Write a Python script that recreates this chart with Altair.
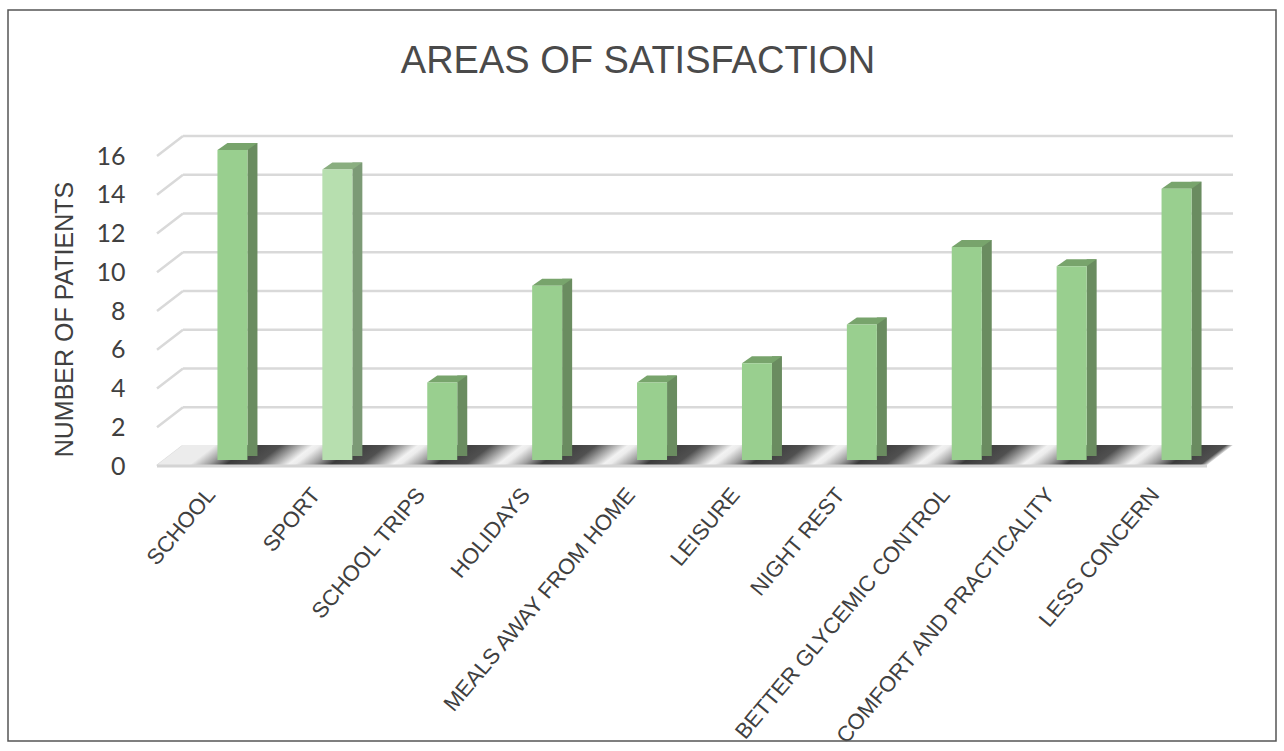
import altair as alt
import pandas as pd

# ---------------- data ----------------
CATEGORIES = [
    "SCHOOL", "SPORT", "SCHOOL TRIPS", "HOLIDAYS", "MEALS AWAY FROM HOME",
    "LEISURE", "NIGHT REST", "BETTER GLYCEMIC CONTROL",
    "COMFORT AND PRACTICALITY", "LESS CONCERN",
]
PATIENTS = [16, 15, 4, 9, 4, 5, 7, 11, 10, 14]
Y_TICKS = [0, 2, 4, 6, 8, 10, 12, 14, 16]
TITLE = "AREAS OF SATISFACTION"
Y_TITLE = "NUMBER OF PATIENTS"
HIGHLIGHT = "SPORT"

# ---------------- layout / style ----------------
W, H = 1049, 310
LEFT, TOP = 180, 150
N = len(CATEGORIES)
STEP = W / N

FRONT, FRONT_HI = "#99CF8F", "#B7DFAF"
SIDE, SIDE_HI = "#6A8C60", "#7C9A76"
TOPC, TOPC_HI = "#78A46C", "#8AAE80"
GRID = "#d9d9d9"
TEXT = "#404040"

df = pd.DataFrame({"category": CATEGORIES, "patients": PATIENTS})
ticks_df = pd.DataFrame({"tick": Y_TICKS})

yscale = alt.Scale(domain=[0, 16], nice=False, zero=True)
xscale = alt.Scale(domain=CATEGORIES, paddingInner=0, paddingOuter=0)

y_axis = alt.Axis(
    values=Y_TICKS, grid=False, ticks=False, domain=False,
    labelFont="Lato", labelFontSize=25, labelColor=TEXT,
    labelPadding=55, labelOffset=6,
    title=Y_TITLE, titleFont="Liberation Sans", titleFontSize=25,
    titleFontWeight="normal", titleColor=TEXT, titleAngle=-90,
    titleX=64 - LEFT, titleY=319 - TOP, titleAlign="center",
    titleBaseline="middle",
)
x_axis = alt.Axis(
    title=None, ticks=False, domain=False, grid=False,
    labelAngle=-50, labelAlign="right", labelBaseline="top",
    labelOffset=-29, labelPadding=24, labelLimit=500,
    labelFont="Liberation Sans", labelFontSize=22, labelColor=TEXT,
)


def yenc(field):
    return alt.Y(field, scale=yscale, axis=y_axis)


xenc = alt.X("category:N", sort=CATEGORIES, scale=xscale, axis=x_axis)
is_hi = alt.datum.category == HIGHLIGHT

# border around the whole figure
border = alt.Chart(alt.Data(values=[{"a": 1}])).mark_rect(
    fillOpacity=0, stroke="#555555", strokeWidth=1.5
).encode(
    x=alt.value(8 - LEFT), x2=alt.value(1276 - LEFT),
    y=alt.value(10 - TOP), y2=alt.value(741 - TOP),
)

title = alt.Chart(alt.Data(values=[{"t": TITLE}])).mark_text(
    font="Liberation Sans", fontSize=38, color="#4a4a4a",
    align="center", baseline="alphabetic",
).encode(x=alt.value(638 - LEFT), y=alt.value(73 - TOP), text="t:N")

# back-wall gridlines
grid = alt.Chart(ticks_df).transform_filter(alt.datum.tick > 0).mark_rule(
    color=GRID, strokeWidth=2.5, yOffset=-14
).encode(y=yenc("tick:Q"), x=alt.value(3), x2=alt.value(W + 4))

# side-wall diagonals
diag = alt.Chart(ticks_df).mark_rule(
    color=GRID, strokeWidth=2.5, yOffset=6, y2Offset=-14
).encode(
    y=yenc("tick:Q"), y2="tick:Q",
    x=alt.value(157 - LEFT), x2=alt.value(183 - LEFT),
)

# floor (parallelogram with bar-shadow shading)
corners = [(157, 465), (1207, 465), (1233, 445), (183, 445)]
cx, cy, r = 695, 455, 538
floor_path = "M " + " L ".join(
    f"{(px - cx) / r:.5f} {(py - cy) / r:.5f}" for px, py in corners
) + " Z"

stops = [alt.GradientStop(offset=0, color="#ececec")]
for i in range(N):
    c = LEFT + STEP * (i + 0.5)
    for d, col in [(-36, "#ececec"), (-18, "#a0a0a0"), (0, "#3c3c3c"),
                   (30, "#505050"), (62, "#f2f2f2")]:
        off = (c + d - 157 + 19) / 1076
        off = max(0.0, min(1.0, off))
        stops.append(alt.GradientStop(offset=off, color=col))
stops.append(alt.GradientStop(offset=1, color="#ececec"))

floor = alt.Chart(alt.Data(values=[{"a": 1}])).mark_point(
    shape=floor_path, size=(2 * r) ** 2, filled=True, opacity=1,
    strokeWidth=0,
    fill=alt.Gradient(gradient="linear", stops=stops,
                      x1=0, y1=0, x2=1, y2=0.0242),
).encode(x=alt.value(cx - LEFT), y=alt.value(cy - TOP))

floor_edge = alt.Chart(alt.Data(values=[{"a": 1}])).mark_rule(
    color="#d4d4d4", strokeWidth=3
).encode(x=alt.value(157 - LEFT), x2=alt.value(1207 - LEFT),
         y=alt.value(466 - TOP))

# bars: side face, top face, front face
side = alt.Chart(df).mark_bar(size=10, xOffset=20, yOffset=-7, y2Offset=-4).encode(
    x=xenc, y=yenc("patients:Q"), y2=alt.datum(0),
    color=alt.condition(is_hi, alt.value(SIDE_HI), alt.value(SIDE)),
)
top_path = "M -0.75 0 L -0.25 -0.35 L 1.25 -0.35 L 0.75 0 Z"
topf = alt.Chart(df).mark_point(
    shape=top_path, size=1600, filled=True, opacity=1, strokeWidth=0
).encode(
    x=xenc, y=yenc("patients:Q"),
    color=alt.condition(is_hi, alt.value(TOPC_HI), alt.value(TOPC)),
)
front = alt.Chart(df).mark_bar(size=30).encode(
    x=xenc, y=yenc("patients:Q"), y2=alt.datum(0),
    color=alt.condition(is_hi, alt.value(FRONT_HI), alt.value(FRONT)),
    tooltip=["category:N", "patients:Q"],
)

chart = alt.layer(
    border, title, grid, diag, floor, floor_edge, side, topf, front
).properties(
    width=W, height=H,
    autosize=alt.AutoSizeParams(type="none"),
    padding={"left": LEFT, "top": TOP, "right": 1284 - LEFT - W,
             "bottom": 751 - TOP - H},
    background="white",
).configure_view(strokeWidth=0)

chart.save("out.html", embed_options={"renderer": "svg", "actions": False})
